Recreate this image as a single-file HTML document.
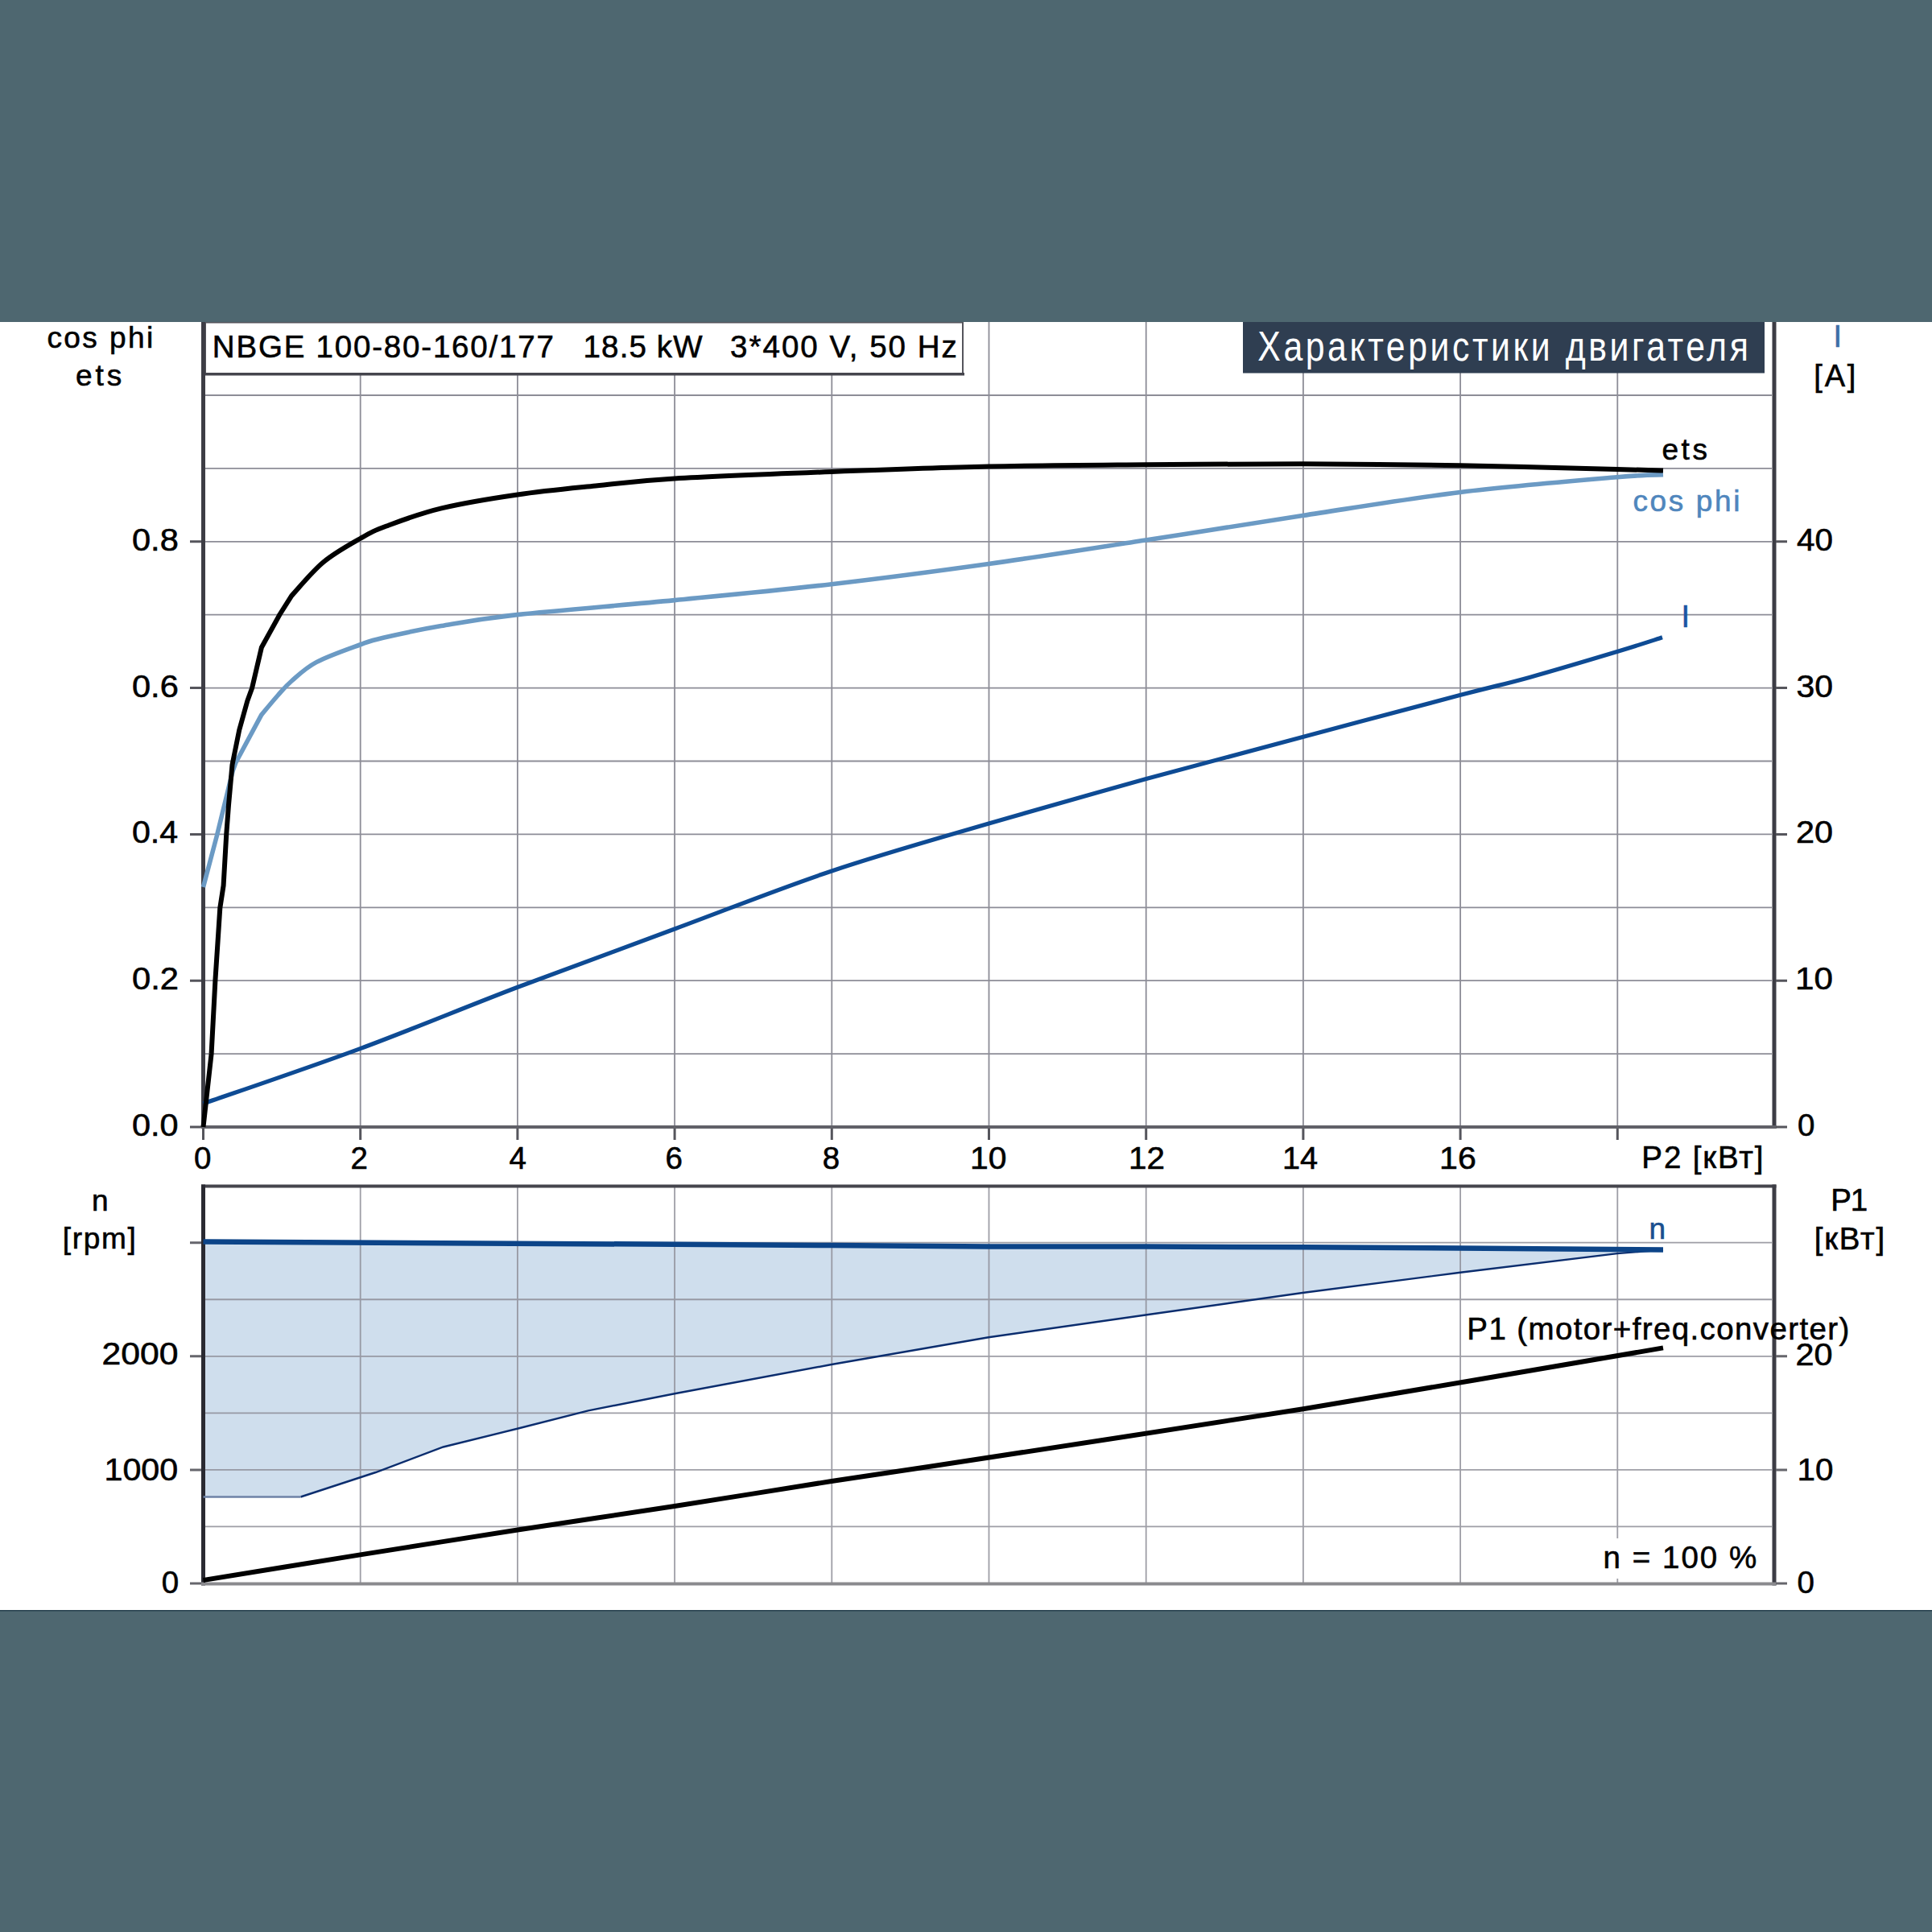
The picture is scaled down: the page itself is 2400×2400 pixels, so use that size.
<!DOCTYPE html><html><head><meta charset="utf-8"><title>Motor characteristics</title>
<style>html,body{margin:0;padding:0;background:#fff;overflow:hidden}svg{display:block}text{font-family:"Liberation Sans",sans-serif}</style></head><body>
<svg width="2400" height="2400" viewBox="0 0 2400 2400">
<rect x="0" y="0" width="2400" height="2400" fill="#ffffff"/>
<path d="M447.70,400 V1400 M642.90,400 V1400 M838.10,400 V1400 M1033.30,400 V1400 M1228.50,400 V1400 M1423.70,400 V1400 M1618.90,400 V1400 M1814.10,400 V1400 M2009.30,400 V1400 M255,1309.10 H2201 M255,1218.20 H2201 M255,1127.30 H2201 M255,1036.40 H2201 M255,945.50 H2201 M255,854.60 H2201 M255,763.70 H2201 M255,672.80 H2201 M255,581.90 H2201 M255,491.00 H2201" stroke="#8d8d97" stroke-width="1.8" fill="none"/>
<path d="M252.50,1542.50 L838.00,1545.80 L1033.00,1547.00 L1228.00,1548.40 L1423.00,1548.50 L1618.00,1549.30 L1814.00,1550.60 L2066.00,1552.50 L2066.00,1552.50 L2009.00,1557.10 L1814.00,1580.70 L1618.00,1606.00 L1423.00,1633.50 L1228.00,1661.30 L1033.00,1695.00 L838.00,1731.30 L730.70,1752.30 L643.70,1774.50 L550.60,1797.50 L466.70,1829.00 L373.50,1859.50 L252.50,1859.50 Z" fill="#cfdeed" stroke="none"/>
<path d="M447.70,1475 V1967 M642.90,1475 V1967 M838.10,1475 V1967 M1033.30,1475 V1967 M1228.50,1475 V1967 M1423.70,1475 V1967 M1618.90,1475 V1967 M1814.10,1475 V1967 M2009.30,1475 V1967 M255,1896.45 H2201 M255,1825.90 H2201 M255,1755.35 H2201 M255,1684.80 H2201 M255,1614.25 H2201 M255,1543.70 H2201" stroke="#8d8d97" stroke-width="1.8" fill="none" opacity="0.85"/>
<rect x="255" y="400.5" width="941" height="64" fill="#fff" stroke="#55555c" stroke-width="2"/>
<rect x="255" y="463" width="943" height="3.5" fill="#45454d"/>
<rect x="1544" y="400" width="648" height="63.5" fill="#2f3e51"/>
<rect x="250" y="400" width="5" height="1002" fill="#3d3d45"/>
<rect x="2201.5" y="400" width="5" height="1002" fill="#3d3d45"/>
<rect x="250" y="1398" width="1956.5" height="4" fill="#616168"/>
<path d="M236,1400.00 H250 M2206,1400.00 H2220 M236,1218.20 H250 M2206,1218.20 H2220 M236,1036.40 H250 M2206,1036.40 H2220 M236,854.60 H250 M2206,854.60 H2220 M236,672.80 H250 M2206,672.80 H2220 M252.50,1402 V1416 M447.70,1402 V1416 M642.90,1402 V1416 M838.10,1402 V1416 M1033.30,1402 V1416 M1228.50,1402 V1416 M1423.70,1402 V1416 M1618.90,1402 V1416 M1814.10,1402 V1416 M2009.30,1402 V1416" stroke="#55555c" stroke-width="3" fill="none"/>
<rect x="250" y="1471.5" width="1956.5" height="4" fill="#45454d"/>
<rect x="250" y="1471.5" width="5" height="498" fill="#2a2a32"/>
<rect x="2201.5" y="1471.5" width="5" height="498" fill="#3d3d45"/>
<rect x="250" y="1965.5" width="1956.5" height="4" fill="#8a8a8e"/>
<path d="M236,1967.00 H250 M236,1825.90 H250 M236,1684.80 H250 M236,1543.70 H250 M2206,1967.00 H2220 M2206,1825.90 H2220 M2206,1684.80 H2220" stroke="#66666c" stroke-width="3" fill="none"/>
<path d="M252.50,1371.00 C285.00,1359.60 382.50,1326.68 447.50,1302.60 C512.50,1278.52 577.42,1251.27 642.50,1226.50 C707.58,1201.73 773.00,1178.05 838.00,1154.00 C903.00,1129.95 967.45,1104.03 1032.50,1082.20 C1097.55,1060.37 1163.22,1042.07 1228.30,1023.00 C1293.38,1003.93 1358.00,985.73 1423.00,967.80 C1488.00,949.87 1553.20,932.77 1618.30,915.40 C1683.40,898.03 1766.65,875.93 1813.60,863.60 C1860.55,851.27 1867.47,850.42 1900.00,841.40 C1932.53,832.38 1981.30,817.77 2008.80,809.50 C2036.30,801.23 2055.63,794.75 2065.00,791.80" stroke="#0e4b94" stroke-width="5.2" fill="none" stroke-linejoin="round"/>
<path d="M252.50,1102.00 L269.60,1037.40 L282.70,983.80 L289.00,958.00 L292.80,947.50 L324.70,888.10  C328.08,884.08 338.75,871.02 345.00,864.00 C351.25,856.98 354.20,852.90 362.20,846.00 C370.20,839.10 378.87,830.10 393.00,822.60 C407.13,815.10 433.17,806.07 447.00,801.00 C460.83,795.93 459.17,796.10 476.00,792.20 C492.83,788.30 520.25,782.37 548.00,777.60 C575.75,772.83 594.20,768.93 642.50,763.60 C690.80,758.27 772.73,751.92 837.80,745.60 C902.87,739.28 967.87,733.22 1032.90,725.70 C1097.93,718.18 1162.98,709.62 1228.00,700.50 C1293.02,691.38 1358.00,681.00 1423.00,671.00 C1488.00,661.00 1552.83,650.42 1618.00,640.50 C1683.17,630.58 1748.88,619.45 1814.00,611.50 C1879.12,603.55 1966.70,596.43 2008.70,592.80 C2050.70,589.17 2056.45,590.22 2066.00,589.70" stroke="#6b9ac4" stroke-width="5.6" fill="none" stroke-linejoin="round"/>
<path d="M252.50,1400.00 L262.60,1309.00 L267.40,1218.00 L273.30,1128.00 L277.60,1100.00 L281.20,1037.00 L284.00,1000.00 L288.50,950.00 L297.20,907.00 L307.30,870.70 L313.10,854.80 L324.90,804.30 L347.70,763.00 L362.20,740.10  C368.75,733.17 387.28,710.35 401.50,698.50 C415.72,686.65 434.42,676.50 447.50,669.00 C460.58,661.50 463.18,659.77 480.00,653.50 C496.82,647.23 521.23,637.90 548.40,631.40 C575.57,624.90 611.07,619.15 643.00,614.50 C674.93,609.85 707.53,606.83 740.00,603.50 C772.47,600.17 788.98,597.42 837.80,594.50 C886.62,591.58 967.87,588.48 1032.90,586.00 C1097.93,583.52 1162.98,581.05 1228.00,579.60 C1293.02,578.15 1358.00,577.85 1423.00,577.30 C1488.00,576.75 1552.83,576.13 1618.00,576.30 C1683.17,576.47 1748.88,577.18 1814.00,578.30 C1879.12,579.42 1966.70,581.97 2008.70,583.00 C2050.70,584.03 2056.45,584.25 2066.00,584.50" stroke="#000" stroke-width="6.0" fill="none" stroke-linejoin="round"/>
<path d="M373.50,1859.50 L466.70,1829.00 L550.60,1797.50 L643.70,1774.50 L730.70,1752.30 L838.00,1731.30 L1033.00,1695.00 L1228.00,1661.30 L1423.00,1633.50 L1618.00,1606.00 L1814.00,1580.70 L2009.00,1557.10 L2066.00,1552.50" stroke="#0b2d6e" stroke-width="2.4" fill="none"/>
<path d="M252.5,1859.5 H373.5" stroke="#6e82a6" stroke-width="2.4" fill="none"/>
<path d="M252.50,1542.50 L838.00,1545.80 L1033.00,1547.00 L1228.00,1548.40 L1423.00,1548.50 L1618.00,1549.30 L1814.00,1550.60 L2066.00,1552.50" stroke="#0c4488" stroke-width="6.5" fill="none"/>
<path d="M252.50,1963.00 C272.00,1959.84 408.45,1937.65 447.50,1931.40 C486.55,1925.15 603.95,1906.54 643.00,1900.50 C682.05,1894.46 799.00,1877.05 838.00,1871.00 C877.00,1864.95 1000.80,1845.00 1033.00,1840.00 C1065.20,1835.00 1101.42,1829.97 1160.00,1821.00 C1218.58,1812.03 1528.20,1764.96 1618.80,1750.30 C1709.40,1735.64 2021.28,1681.99 2066.00,1674.40" stroke="#000" stroke-width="6" fill="none"/>
<rect x="1988" y="1911" width="200" height="50" fill="#ffffff"/>
<rect x="0" y="0" width="2400" height="400" fill="#4e6770"/>
<rect x="0" y="2000" width="2400" height="400" fill="#4e6770"/>
<rect x="0" y="2000" width="2400" height="1.5" fill="#26404e"/>
<text x="58.43" y="431.70" font-size="37.00" fill="#000" stroke="#000" stroke-width="0.60" textLength="131.83" lengthAdjust="spacing">cos phi</text>
<text x="93.93" y="479.40" font-size="37.00" fill="#000" stroke="#000" stroke-width="0.60" textLength="57.26" lengthAdjust="spacing">ets</text>
<text x="263.84" y="443.50" font-size="38.50" fill="#000" stroke="#000" stroke-width="0.60" textLength="424.03" lengthAdjust="spacing">NBGE 100-80-160/177</text>
<text x="724.57" y="443.50" font-size="38.50" fill="#000" stroke="#000" stroke-width="0.60" textLength="147.90" lengthAdjust="spacing">18.5 kW</text>
<text x="907.03" y="443.50" font-size="38.50" fill="#000" stroke="#000" stroke-width="0.60" textLength="281.80" lengthAdjust="spacing">3*400 V, 50 Hz</text>
<text x="1562.35" y="447.90" font-size="51.00" fill="#ffffff" stroke="#ffffff" stroke-width="0.00" textLength="725.59" lengthAdjust="spacing" transform="translate(1562.35 0) scale(0.8400 1) translate(-1562.35 0)">Характеристики двигателя</text>
<text x="2277.49" y="431.40" font-size="38.00" fill="#3d6fa8" stroke="#3d6fa8" stroke-width="0.60">I</text>
<text x="2253.29" y="479.90" font-size="38.00" fill="#000" stroke="#000" stroke-width="0.60" textLength="52.12" lengthAdjust="spacing">[A]</text>
<text x="164.00" y="683.80" font-size="38.50" fill="#000" stroke="#000" stroke-width="0.60" textLength="57.74" lengthAdjust="spacingAndGlyphs">0.8</text>
<text x="164.00" y="865.60" font-size="38.50" fill="#000" stroke="#000" stroke-width="0.60" textLength="57.76" lengthAdjust="spacingAndGlyphs">0.6</text>
<text x="164.00" y="1047.40" font-size="38.50" fill="#000" stroke="#000" stroke-width="0.60" textLength="57.15" lengthAdjust="spacingAndGlyphs">0.4</text>
<text x="164.00" y="1229.20" font-size="38.50" fill="#000" stroke="#000" stroke-width="0.60" textLength="57.97" lengthAdjust="spacingAndGlyphs">0.2</text>
<text x="164.00" y="1411.00" font-size="38.50" fill="#000" stroke="#000" stroke-width="0.60" textLength="57.54" lengthAdjust="spacingAndGlyphs">0.0</text>
<text x="2232.12" y="683.80" font-size="38.50" fill="#000" stroke="#000" stroke-width="0.60" textLength="44.96" lengthAdjust="spacingAndGlyphs">40</text>
<text x="2231.53" y="865.60" font-size="38.50" fill="#000" stroke="#000" stroke-width="0.60" textLength="45.49" lengthAdjust="spacingAndGlyphs">30</text>
<text x="2231.06" y="1047.40" font-size="38.50" fill="#000" stroke="#000" stroke-width="0.60" textLength="45.99" lengthAdjust="spacingAndGlyphs">20</text>
<text x="2230.07" y="1229.20" font-size="38.50" fill="#000" stroke="#000" stroke-width="0.60" textLength="46.92" lengthAdjust="spacingAndGlyphs">10</text>
<text x="2233.00" y="1411.00" font-size="38.50" fill="#000" stroke="#000" stroke-width="0.60">0</text>
<text x="241.00" y="1451.50" font-size="38.50" fill="#000" stroke="#000" stroke-width="0.60">0</text>
<text x="435.56" y="1451.50" font-size="38.50" fill="#000" stroke="#000" stroke-width="0.60">2</text>
<text x="632.62" y="1451.50" font-size="38.50" fill="#000" stroke="#000" stroke-width="0.60">4</text>
<text x="826.54" y="1451.50" font-size="38.50" fill="#000" stroke="#000" stroke-width="0.60">6</text>
<text x="1021.83" y="1451.50" font-size="38.50" fill="#000" stroke="#000" stroke-width="0.60">8</text>
<text x="1205.07" y="1451.50" font-size="38.50" fill="#000" stroke="#000" stroke-width="0.60" textLength="45.42" lengthAdjust="spacingAndGlyphs">10</text>
<text x="1402.07" y="1451.50" font-size="38.50" fill="#000" stroke="#000" stroke-width="0.60" textLength="44.92" lengthAdjust="spacingAndGlyphs">12</text>
<text x="1593.07" y="1451.50" font-size="38.50" fill="#000" stroke="#000" stroke-width="0.60" textLength="44.11" lengthAdjust="spacingAndGlyphs">14</text>
<text x="1788.07" y="1451.50" font-size="38.50" fill="#000" stroke="#000" stroke-width="0.60" textLength="45.66" lengthAdjust="spacingAndGlyphs">16</text>
<text x="2039.34" y="1451.40" font-size="38.50" fill="#000" stroke="#000" stroke-width="0.60" textLength="151.16" lengthAdjust="spacing">P2 [кВт]</text>
<text x="2064.43" y="571.00" font-size="37.00" fill="#000" stroke="#000" stroke-width="0.60" textLength="56.46" lengthAdjust="spacing">ets</text>
<text x="2028.43" y="635.20" font-size="37.00" fill="#4f86bd" stroke="#4f86bd" stroke-width="0.60" textLength="133.00" lengthAdjust="spacing">cos phi</text>
<text x="2088.49" y="779.20" font-size="38.00" fill="#1a56a4" stroke="#1a56a4" stroke-width="0.60">I</text>
<text x="114.04" y="1503.50" font-size="37.00" fill="#000" stroke="#000" stroke-width="0.60">n</text>
<text x="77.86" y="1551.40" font-size="37.00" fill="#000" stroke="#000" stroke-width="0.60" textLength="90.80" lengthAdjust="spacing">[rpm]</text>
<text x="126.56" y="1694.80" font-size="38.50" fill="#000" stroke="#000" stroke-width="0.60" textLength="94.96" lengthAdjust="spacingAndGlyphs">2000</text>
<text x="129.47" y="1839.00" font-size="38.50" fill="#000" stroke="#000" stroke-width="0.60" textLength="91.64" lengthAdjust="spacingAndGlyphs">1000</text>
<text x="200.70" y="1979.00" font-size="38.50" fill="#000" stroke="#000" stroke-width="0.60">0</text>
<text x="2274.34" y="1503.70" font-size="38.50" fill="#000" stroke="#000" stroke-width="0.60" textLength="45.84" lengthAdjust="spacing">P1</text>
<text x="2253.76" y="1551.50" font-size="38.50" fill="#000" stroke="#000" stroke-width="0.60" textLength="87.39" lengthAdjust="spacing">[кВт]</text>
<text x="2230.56" y="1695.50" font-size="38.50" fill="#000" stroke="#000" stroke-width="0.60" textLength="46.09" lengthAdjust="spacingAndGlyphs">20</text>
<text x="2232.57" y="1839.00" font-size="38.50" fill="#000" stroke="#000" stroke-width="0.60" textLength="44.93" lengthAdjust="spacingAndGlyphs">10</text>
<text x="2232.50" y="1978.60" font-size="38.50" fill="#000" stroke="#000" stroke-width="0.60">0</text>
<text x="2048.54" y="1539.00" font-size="37.00" fill="#1a4f8f" stroke="#1a4f8f" stroke-width="0.60">n</text>
<text x="1822.34" y="1663.50" font-size="38.50" fill="#000" stroke="#000" stroke-width="0.60" textLength="475.01" lengthAdjust="spacing">P1 (motor+freq.converter)</text>
<text x="1991.44" y="1947.90" font-size="38.50" fill="#000" stroke="#000" stroke-width="0.60" textLength="190.88" lengthAdjust="spacing">n = 100 %</text>
</svg></body></html>
